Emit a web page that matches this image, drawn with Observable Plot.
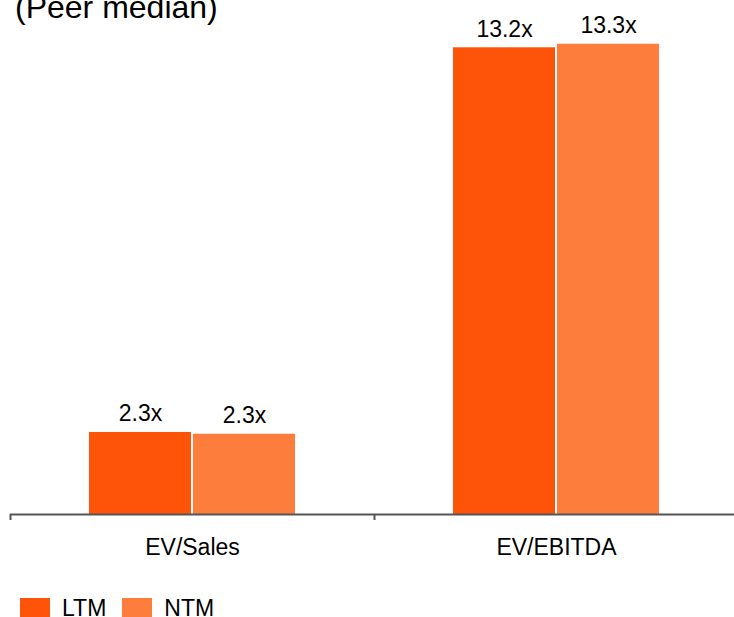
<!DOCTYPE html>
<html>
<head>
<meta charset="utf-8">
<script src="https://cdn.jsdelivr.net/npm/d3@7"></script>
<script src="https://cdn.jsdelivr.net/npm/@observablehq/plot@0.6"></script>
<style>
  html, body { margin: 0; padding: 0; background: #fff; overflow: hidden; }
  body { font-family: "Liberation Sans", Arial, sans-serif; color: #000; }
  #wrap { position: relative; width: 734px; height: 617px; overflow: hidden; }
  #title { position: absolute; left: 15px; top: -10px; font-size: 32px; line-height: 34px; white-space: nowrap; }
  #chart { position: absolute; left: 0; top: 0; }
  #legend { position: absolute; left: 20px; top: 598px; display: flex; align-items: flex-start; font-size: 23px; line-height: 18px; }
  .item { display: flex; align-items: flex-start; margin-right: 16px; }
  .sw { width: 30px; height: 19px; margin-right: 12px; }
  .lab { margin-top: 1px; }
</style>
</head>
<body>
<div id="wrap">
  <div id="chart"></div>
  <div id="title">(Peer median)</div>
  <div id="legend"></div>
</div>
<script>
const categories = ["EV/Sales", "EV/EBITDA"];
const seriesNames = ["LTM", "NTM"];
const ltmValues = [2.32, 13.2];
const ntmValues = [2.27, 13.3];
const colors = ["#FE5409", "#FD7E3C"];

const ltm = categories.map((c, i) => ({cat: c, value: ltmValues[i]}));
const ntm = categories.map((c, i) => ({cat: c, value: ntmValues[i]}));
const fmt = d => d.value.toFixed(1) + "x";

const chart = Plot.plot({
  width: 734,
  height: 575,
  marginTop: 19,
  marginBottom: 61,
  marginLeft: 10,
  marginRight: 0,
  style: {fontFamily: "Liberation Sans, Arial, sans-serif", background: "transparent", overflow: "visible"},
  x: {domain: categories, range: [10, 738], padding: 0, axis: null},
  y: {domain: [0, 14], axis: null},
  marks: [
    Plot.barY(ltm, {x: "cat", y: "value", fill: colors[0], insetLeft: 79, insetRight: 183}),
    Plot.barY(ntm, {x: "cat", y: "value", fill: colors[1], insetLeft: 183, insetRight: 79}),
    Plot.text(ltm, {x: "cat", y: "value", text: fmt, dx: -52, dy: -11, lineAnchor: "bottom", fontSize: 23, fill: "#000"}),
    Plot.text(ntm, {x: "cat", y: "value", text: fmt, dx: 52, dy: -11, lineAnchor: "bottom", fontSize: 23, fill: "#000"}),
    Plot.ruleY([0], {stroke: "#555", strokeWidth: 2}),
    Plot.ruleX(categories, {x: d => d, y1: 0, y2: 0, dx: -182, insetBottom: -6, stroke: "#555", strokeWidth: 2}),
    Plot.text(categories, {x: d => d, y: 0, text: d => d, dy: 24, lineAnchor: "top", fontSize: 23, fill: "#000"})
  ]
});
document.getElementById("chart").appendChild(chart);

const legend = document.getElementById("legend");
seriesNames.forEach((s, i) => {
  const item = document.createElement("div");
  item.className = "item";
  item.innerHTML = `<div class="sw" style="background:${colors[i]}"></div><div class="lab">${s}</div>`;
  legend.appendChild(item);
});
</script>
</body>
</html>
